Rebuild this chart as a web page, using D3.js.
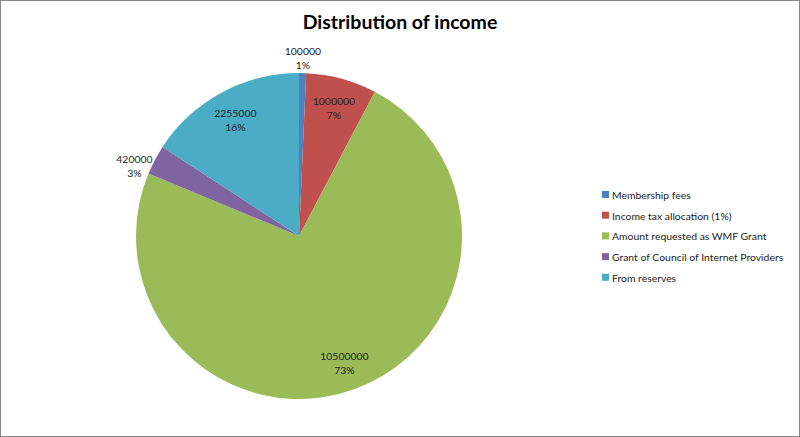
<!DOCTYPE html>
<html>
<head>
<meta charset="utf-8">
<script src="https://cdn.jsdelivr.net/npm/d3@7"></script>
<style>
  body { margin: 0; background: #fff; }
  svg { display: block; }
</style>
</head>
<body>
<script>
// chart data
const categories = ['Membership fees', 'Income tax allocation (1%)', 'Amount requested as WMF Grant',
                    'Grant of Council of Internet Providers', 'From reserves'];
const amounts = [100000, 1000000, 10500000, 420000, 2255000];
const percentLabels = ['1%', '7%', '73%', '3%', '16%'];
const colorList = ['#4F81BD', '#C0504D', '#9BBB59', '#8064A2', '#4BACC6'];

const W = 800, H = 437;
const cx = 299, cy = 236, r = 163;
const font = 'Lato, "Open Sans", sans-serif';

const svg = d3.select('body').append('svg')
  .attr('width', W).attr('height', H);

svg.append('rect')
  .attr('x', 0.5).attr('y', 0.5)
  .attr('width', W - 1).attr('height', H - 1)
  .attr('fill', '#fff')
  .attr('stroke', '#868686');

svg.append('text')
  .attr('x', 400).attr('y', 29)
  .attr('text-anchor', 'middle')
  .style('font-family', font)
  .style('font-weight', 'bold')
  .style('font-size', '19.5px')
  .text('Distribution of income');

const color = d3.scaleOrdinal().domain(categories).range(colorList);

const pie = d3.pie().sort(null).value((d, i) => amounts[i]);
const arcs = pie(categories);

const arc = d3.arc().innerRadius(0).outerRadius(r);

const g = svg.append('g').attr('transform', `translate(${cx},${cy})`);

g.selectAll('path')
  .data(arcs)
  .enter().append('path')
  .attr('d', arc)
  .attr('fill', d => color(d.data));

// small slices get their label outside the pie
const labelPos = d => {
  const share = (d.endAngle - d.startAngle) / (2 * Math.PI);
  const outside = share < 0.05;
  const k = outside ? 1.1 : 0.82;
  let a = (d.startAngle + d.endAngle) / 2;
  if (outside) a = a * 0.985;
  return [Math.sin(a) * r * k, -Math.cos(a) * r * k];
};

const labels = g.selectAll('.lbl')
  .data(arcs)
  .enter().append('text')
  .attr('class', 'lbl')
  .attr('text-anchor', 'middle')
  .attr('transform', d => `translate(${labelPos(d)})`)
  .style('font-family', font)
  .style('font-size', '10.4px')
  .attr('fill', '#222');

labels.append('tspan').attr('x', 0).attr('dy', '-0.15em').text(d => amounts[d.index]);
labels.append('tspan').attr('x', 0).attr('dy', '1.35em').text(d => percentLabels[d.index]);

// legend
const legend = svg.selectAll('.legend')
  .data(categories)
  .enter().append('g')
  .attr('class', 'legend')
  .attr('transform', (d, i) => `translate(602,${195 + i * 20.7})`);

legend.append('rect')
  .attr('x', 0).attr('y', -4)
  .attr('width', 7).attr('height', 7)
  .attr('fill', d => color(d));

legend.append('text')
  .attr('x', 10).attr('y', 4)
  .style('font-family', font)
  .style('font-size', '10.4px')
  .attr('fill', '#222')
  .text(d => d);
</script>
</body>
</html>
